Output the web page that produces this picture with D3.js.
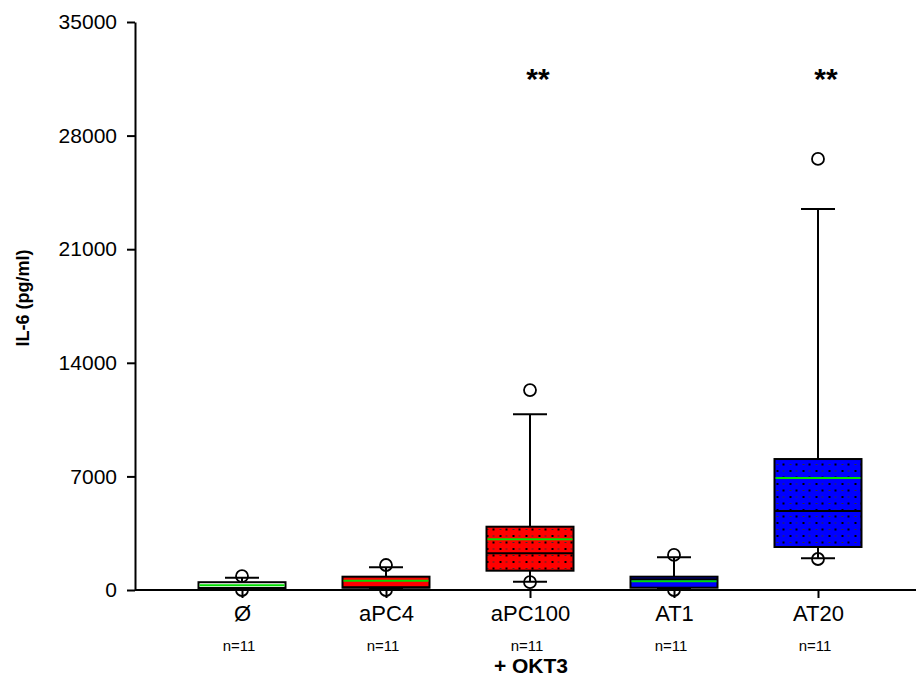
<!DOCTYPE html>
<html>
<head>
<meta charset="utf-8">
<script src="https://cdn.jsdelivr.net/npm/d3@7"></script>
<style>
  body { margin: 0; background: #fff; overflow: hidden; }
  svg { display: block; font-family: Arial, "Liberation Sans", sans-serif; }
</style>
</head>
<body>
<svg id="chart" width="916" height="678"></svg>
<script>
// Categorias y resumen de cada caja
const categories = ["Ø", "aPC4", "aPC100", "AT1", "AT20"];
const nLabels = ["n=11", "n=11", "n=11", "n=11", "n=11"];
const lowOutlier = [0, 0, 480, 0, 1910];
const lowWhisker = [20, 60, 514, 80, 1950];
const q1 = [40, 140, 1190, 140, 2650];
const median = [120, 170, 2260, 660, 4870];
const q3 = [480, 820, 3900, 820, 8070];
const upWhisker = [760, 1400, 10830, 2015, 23480];
const highOutlier = [860, 1540, 12320, 2160, 26560];
const mean = [300, 570, 3120, 540, 6900];
const stars = ["", "", "**", "", "**"];
const starLevel = 30900;
const yTicks = [0, 7000, 14000, 21000, 28000, 35000];

// Colores
const fills = ["#ffffff", "#ff0000", "#ff0000", "#0000ff", "#0000ff"];
const dotted = [false, false, true, false, true];

const svg = d3.select("#chart");

const x = d3.scalePoint().domain(categories).range([170, 890]).padding(0.5);
const y = d3.scaleLinear().domain([0, 35000]).range([590, 22]);

const boxW = 87;
const capW = 34;

// Patron de puntos para las cajas
const defs = svg.append("defs");
fills.forEach((c, i) => {
    const p = defs.append("pattern")
        .attr("id", "pat" + i)
        .attr("patternUnits", "userSpaceOnUse")
        .attr("width", 13).attr("height", 13)
        .attr("x", x(categories[i]) - boxW / 2);
    p.append("rect").attr("width", 13).attr("height", 13).attr("fill", c);
    p.append("rect").attr("x", 3).attr("y", 2).attr("width", 2).attr("height", 2).attr("fill", "#000");
    p.append("rect").attr("x", 9).attr("y", 2.5).attr("width", 2).attr("height", 1).attr("fill", "#333");
    p.append("rect").attr("x", 9).attr("y", 8.5).attr("width", 2).attr("height", 2).attr("fill", "#000");
    p.append("rect").attr("x", 3).attr("y", 9).attr("width", 2).attr("height", 1).attr("fill", "#333");
});

const data = categories.map((c, i) => ({
    c, i,
    lo: lowOutlier[i], lw: lowWhisker[i], q1: q1[i], med: median[i],
    q3: q3[i], uw: upWhisker[i], hi: highOutlier[i], mean: mean[i]
}));

// Eje X (linea completa)
svg.append("line")
    .attr("x1", 135).attr("x2", 916)
    .attr("y1", y(0)).attr("y2", y(0))
    .attr("stroke", "#000").attr("stroke-width", 2);

const xAxis = svg.append("g")
    .attr("transform", `translate(0,${y(0)})`)
    .call(d3.axisBottom(x).tickSize(8).tickPadding(7));
xAxis.select(".domain").remove();
xAxis.selectAll("line").attr("stroke", "#000").attr("stroke-width", 2);
xAxis.selectAll("text").attr("font-size", 22).attr("fill", "#000");

// n=11
svg.selectAll(".nlab")
    .data(nLabels)
    .enter().append("text")
    .attr("x", (d, i) => x(categories[i]) - 3)
    .attr("y", 651)
    .attr("text-anchor", "middle")
    .attr("font-size", 15)
    .text(d => d);

// Eje Y
const yAxis = svg.append("g")
    .attr("transform", "translate(135,0)")
    .call(d3.axisLeft(y).tickValues(yTicks).tickFormat(d3.format("d")).tickSize(8).tickSizeOuter(0).tickPadding(10));
yAxis.select(".domain").attr("stroke-width", 2);
yAxis.selectAll("line").attr("stroke-width", 2);
yAxis.selectAll("text").attr("font-size", 21).attr("fill", "#000");

// Titulos
svg.append("text")
    .attr("transform", "translate(29,298) rotate(-90)")
    .attr("text-anchor", "middle")
    .attr("font-size", 18)
    .attr("font-weight", "bold")
    .text("IL-6 (pg/ml)");

svg.append("text")
    .attr("x", 531).attr("y", 673)
    .attr("text-anchor", "middle")
    .attr("font-size", 21)
    .attr("font-weight", "bold")
    .text("+ OKT3");

// Cajas
const g = svg.selectAll(".box")
    .data(data)
    .enter().append("g")
    .attr("transform", d => `translate(${x(d.c)},0)`);

// bigotes
g.append("line")
    .attr("y1", d => y(d.lw)).attr("y2", d => y(d.uw))
    .attr("stroke", "#000").attr("stroke-width", 2);
g.append("line")
    .attr("x1", -capW / 2).attr("x2", capW / 2)
    .attr("y1", d => y(d.uw)).attr("y2", d => y(d.uw))
    .attr("stroke", "#000").attr("stroke-width", 2);
g.append("line")
    .attr("x1", -capW / 2).attr("x2", capW / 2)
    .attr("y1", d => y(d.lw)).attr("y2", d => y(d.lw))
    .attr("stroke", "#000").attr("stroke-width", 2);

// atipicos
g.append("circle")
    .attr("cy", d => y(d.hi)).attr("r", 6)
    .attr("fill", "none").attr("stroke", "#000").attr("stroke-width", 1.8);
g.append("circle")
    .attr("cy", d => y(d.lo)).attr("r", 6)
    .attr("fill", "none").attr("stroke", "#000").attr("stroke-width", 1.8);

g.append("rect")
    .attr("x", -boxW / 2)
    .attr("width", boxW)
    .attr("y", d => y(d.q3))
    .attr("height", d => y(d.q1) - y(d.q3))
    .attr("fill", d => dotted[d.i] ? `url(#pat${d.i})` : fills[d.i])
    .attr("stroke", "#000").attr("stroke-width", 2);

// mediana
g.append("line")
    .attr("x1", -boxW / 2).attr("x2", boxW / 2)
    .attr("y1", d => y(d.med)).attr("y2", d => y(d.med))
    .attr("stroke", "#000").attr("stroke-width", 2);

// media
g.append("line")
    .attr("x1", -boxW / 2 + 1).attr("x2", boxW / 2 - 1)
    .attr("y1", d => y(d.mean)).attr("y2", d => y(d.mean))
    .attr("stroke", "#00dd00").attr("stroke-width", 2);

// asteriscos
g.append("text")
    .attr("x", 8)
    .attr("y", y(starLevel))
    .attr("text-anchor", "middle")
    .attr("font-size", 30)
    .attr("font-weight", "bold")
    .text(d => stars[d.i]);
</script>
</body>
</html>
